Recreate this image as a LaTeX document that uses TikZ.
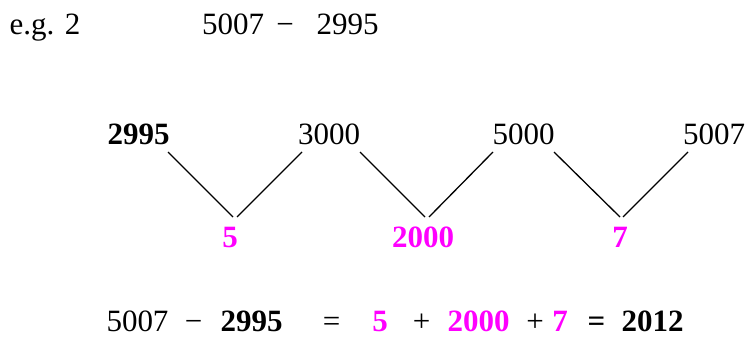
\documentclass[tikz,border=0pt]{standalone}
\usepackage{fontspec}
\setmainfont{Liberation Serif}
\definecolor{mag}{HTML}{FF00FF}
\begin{document}
\begin{tikzpicture}[x=1pt,y=1pt,
  txt/.style={inner sep=0pt,anchor=base,font=\fontsize{31}{37}\selectfont},
  bnum/.style={txt,font=\fontsize{31}{37}\selectfont\bfseries},
  mnum/.style={bnum,text=mag},
  leg/.style={line width=1.3pt,black}]
\useasboundingbox (0,0) rectangle (748,-337);
% header
\node[txt] (eg) at (45,-35) {e.g. 2};
\node[txt] (h1) at (233,-35) {5007};
\node[txt] (h2) at (285,-35) {−};
\node[txt] (h3) at (347.5,-35) {2995};
% top row
\node[bnum] (a) at (138.5,-145) {2995};
\node[txt] (b) at (329,-145) {3000};
\node[txt] (c) at (523.5,-145) {5000};
\node[txt] (d) at (714,-145) {5007};
% differences
\node[mnum] (p) at (230,-247) {5};
\node[mnum] (q) at (423,-247) {2000};
\node[mnum] (r) at (620,-247) {7};
% line ends
\coordinate (a1) at (168,-152);
\coordinate (b0) at (302,-152);
\coordinate (b1) at (360,-152);
\coordinate (c0) at (493,-152);
\coordinate (c1) at (554,-152);
\coordinate (d0) at (688,-152);
\coordinate (p0) at (233,-217);
\coordinate (p1) at (237,-217);
\coordinate (q0) at (425,-217);
\coordinate (q1) at (429,-217);
\coordinate (r0) at (620,-217);
\coordinate (r1) at (623,-217);
\draw[leg] (a1) -- (p0);
\draw[leg] (p1) -- (b0);
\draw[leg] (b1) -- (q0);
\draw[leg] (q1) -- (c0);
\draw[leg] (c1) -- (r0);
\draw[leg] (r1) -- (d0);
% bottom equation
\node[txt] (e1) at (137.5,-331) {5007};
\node[txt] (e2) at (193.5,-331) {−};
\node[bnum] (e3) at (251.5,-331) {2995};
\node[txt] (e4) at (331.5,-331) {=};
\node[mnum] (e5) at (380,-331) {5};
\node[txt] (e6) at (421.5,-331) {+};
\node[mnum] (e7) at (478.5,-331) {2000};
\node[txt] (e8) at (535,-331) {+};
\node[mnum] (e9) at (560,-331) {7};
\node[bnum] (e10) at (596.5,-331) {=};
\node[bnum] (e11) at (652.5,-331) {2012};
\end{tikzpicture}
\end{document}
